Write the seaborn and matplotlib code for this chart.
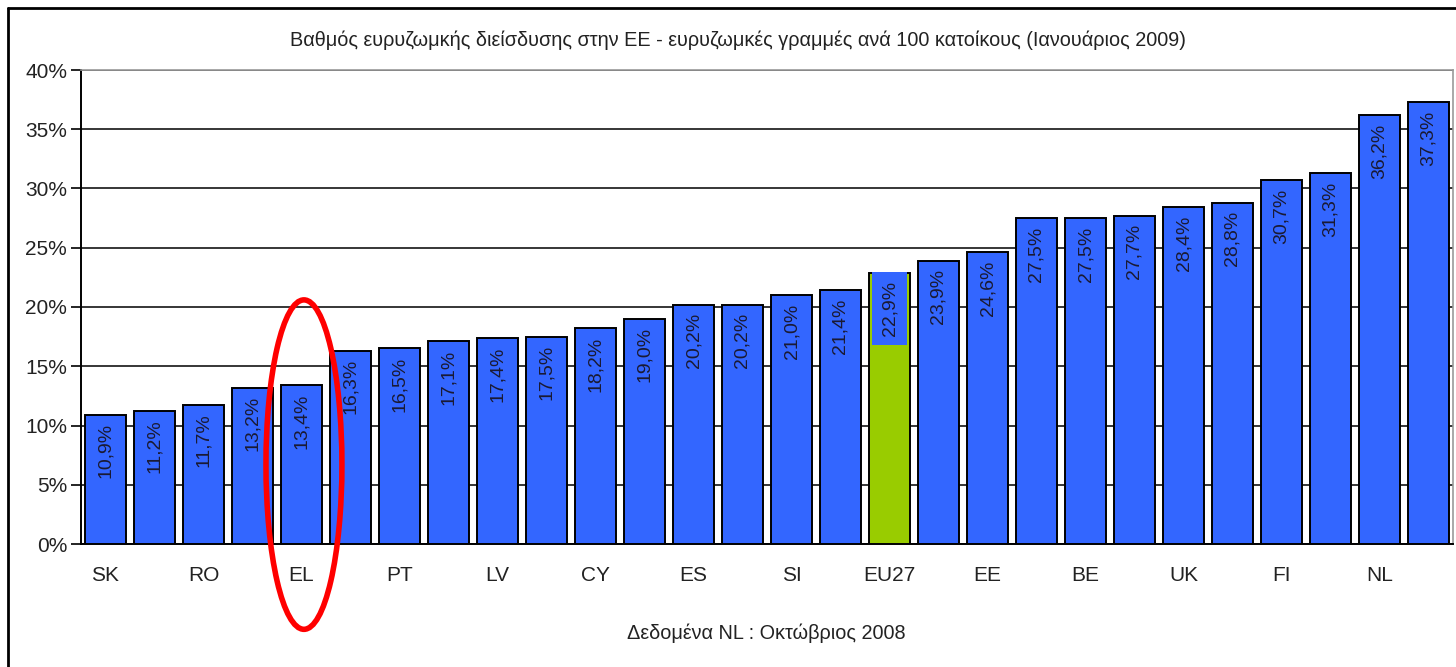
import matplotlib
matplotlib.use("Agg")
import matplotlib.pyplot as plt
import seaborn as sns
import numpy as np
from matplotlib.patches import Ellipse
from matplotlib.lines import Line2D

categories = ["SK", "BG", "RO", "PL", "EL", "CZ", "PT", "HU", "LV", "IT",
              "CY", "LT", "ES", "MT", "SI", "AT", "EU27", "IE", "EE", "FR",
              "BE", "DE", "UK", "LU", "FI", "SE", "NL", "DK"]
values = [10.9, 11.2, 11.7, 13.2, 13.4, 16.3, 16.5, 17.1, 17.4, 17.5,
          18.2, 19.0, 20.2, 20.2, 21.0, 21.4, 22.9, 23.9, 24.6, 27.5,
          27.5, 27.7, 28.4, 28.8, 30.7, 31.3, 36.2, 37.3]
tick_labels = ["SK", "", "RO", "", "EL", "", "PT", "", "LV", "",
               "CY", "", "ES", "", "SI", "", "EU27", "", "EE", "",
               "BE", "", "UK", "", "FI", "", "NL", ""]
highlight = "EU27"
circled = "EL"
title = "Βαθμός ευρυζωμκής διείσδυσης στην ΕΕ - ευρυζωμκές γραμμές ανά 100 κατοίκους (Ιανουάριος 2009)"
footnote = "Δεδομένα NL : Οκτώβριος 2008"

BLUE = "#3366FF"
GREEN = "#99CC00"

sns.set_theme(style="white")
plt.rcParams["font.family"] = ["Liberation Sans", "DejaVu Sans"]
plt.rcParams["text.color"] = "#222222"

fig = plt.figure(figsize=(14.56, 6.67), dpi=100)
ax = fig.add_axes([81/1456, 123/667, (1453-81)/1456, (544-70)/667])

palette = {c: (GREEN if c == highlight else BLUE) for c in categories}
sns.barplot(x=categories, y=values, hue=categories, palette=palette, legend=False,
            width=0.84, edgecolor="black", linewidth=1.4, saturation=1, ax=ax, zorder=3)

ax.set_ylim(0, 40)
ax.set_xlim(-0.5, len(categories) - 0.5)
ax.set_yticks(np.arange(0, 41, 5))
ax.set_yticklabels([f"{v}%" for v in range(0, 41, 5)], fontsize=15, color="#222222")
ax.yaxis.grid(True, color="black", linewidth=1.1, zorder=0)
ax.set_axisbelow(True)

ax.set_xticks(range(len(categories)))
ax.set_xticklabels(tick_labels, fontsize=15, color="#222222")
ax.set_xticks(np.arange(-0.5, len(categories), 1), minor=True)
ax.tick_params(axis="x", which="major", length=0, pad=16)
ax.tick_params(axis="x", which="minor", length=6, width=1.2, color="black", direction="out")
ax.tick_params(axis="y", which="major", length=7, width=1.2, color="black", direction="out",
               left=True, pad=3)

for side in ["left", "bottom"]:
    ax.spines[side].set_color("black")
    ax.spines[side].set_linewidth(1.4)
for side in ["top", "right"]:
    ax.spines[side].set_color("#999999")
    ax.spines[side].set_linewidth(1.2)

for i, (c, v) in enumerate(zip(categories, values)):
    lbl = f"{v:.1f}%".replace(".", ",")
    kw = {}
    if c == highlight:
        kw["bbox"] = dict(boxstyle="square,pad=0.45", facecolor=BLUE, edgecolor="none")
    ax.annotate(lbl, (i, v), xytext=(0, -6), textcoords="offset points",
                rotation=90, ha="center", va="top", fontsize=14,
                color="#1a1a33", zorder=5, **kw)

ci = categories.index(circled)
ax.add_patch(Ellipse((ci + 0.05, 6.7), width=1.55, height=27.8, fill=False,
                     edgecolor="red", linewidth=4, clip_on=False, zorder=6))

fig.text(738/1456, 1 - 40/667, title, ha="center", va="center", fontsize=14.3)
fig.text(766/1456, 1 - 633/667, footnote, ha="center", va="center", fontsize=14.3)

fig.add_artist(Line2D([8/1456, 1.01], [1 - 8/667, 1 - 8/667], color="black", linewidth=2,
                      transform=fig.transFigure))
fig.add_artist(Line2D([8/1456, 8/1456], [-0.01, 1 - 8/667], color="black", linewidth=2,
                      transform=fig.transFigure))

fig.savefig("out.png", dpi=100, facecolor="white")
